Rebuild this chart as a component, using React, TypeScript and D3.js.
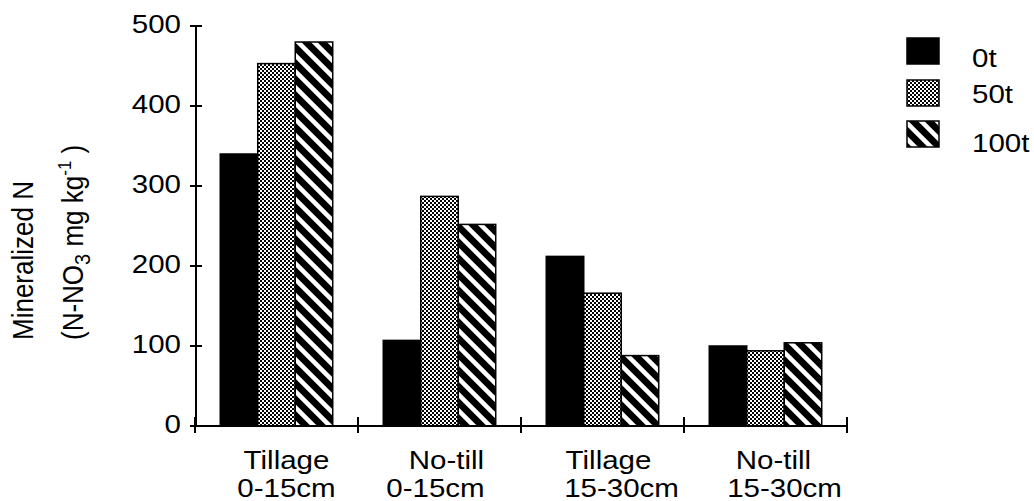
import * as d3 from 'd3';
import React from 'react';

const catLine1 = ['Tillage', 'No-till', 'Tillage', 'No-till'];
const catLine2 = ['0-15cm', '0-15cm', '15-30cm', '15-30cm'];
const seriesNames = ['0t', '50t', '100t'];
const values0t = [340, 107, 212, 100];
const values50t = [453, 287, 166, 94];
const values100t = [480, 252, 88, 104];
const yTicks = [0, 100, 200, 300, 400, 500];

const seriesValues = [values0t, values50t, values100t];
const fills = ['#000', 'url(#checker)', 'url(#hatch)'];
const font = '"Liberation Sans", Arial, sans-serif';
const stretch = 1.18;

// text drawn a little wider than the font, like the original scan
const Wide = ({ x, y, anchor = 'start', size = 25, children }: any) => (
    <g transform={`translate(${x},${y}) scale(${stretch},1)`}>
        <text textAnchor={anchor} fontSize={size} fontFamily={font} fill="#000">{children}</text>
    </g>
);

const App = () => {
    const width = 1034;
    const height = 501;

    const x = d3.scaleBand<number>()
        .domain(catLine1.map((_, i) => i))
        .range([195, 847])
        .padding(0);

    const bw = x.bandwidth();
    const x1 = d3.scaleBand<string>()
        .domain(seriesNames)
        .range([bw * 0.155, bw * 0.845]);

    const y = d3.scaleLinear().domain([0, 500]).range([426, 26]);

    // labels in the original are not quite centred on their groups
    const shift1 = [10, 7, 6, 8];
    const shift2 = [10, -4, 19, 19];

    const legendY = [38, 80, 121];
    const legendText = [67, 103, 152];

    return (
        <svg width={width} height={height} style={{ position: 'absolute', left: 0, top: 0, background: '#fff' }}>
            <defs>
                <pattern id="checker" patternUnits="userSpaceOnUse" width={4} height={4}>
                    <rect width={4} height={4} fill="#fff" />
                    <rect width={2} height={2} fill="#000" />
                    <rect x={2} y={2} width={2} height={2} fill="#000" />
                </pattern>
                <pattern id="hatch" patternUnits="userSpaceOnUse" width={16} height={16}>
                    <rect width={16} height={16} fill="#000" />
                    <path d="M0,0 L16,16 M-8,8 L8,24 M8,-8 L24,8" stroke="#fff" strokeWidth={4.5} />
                </pattern>
            </defs>

            {/* bars */}
            {seriesValues.map((vals, s) => vals.map((v, i) => (
                <rect key={`${s}-${i}`}
                    x={(x(i) as number) + (x1(seriesNames[s]) as number)}
                    y={y(v)}
                    width={x1.bandwidth()}
                    height={y(0) - y(v)}
                    fill={fills[s]}
                    stroke="#000"
                    strokeWidth={1.5} />
            )))}

            {/* y axis */}
            <line x1={196} x2={196} y1={y(500)} y2={y(0)} stroke="#000" strokeWidth={2} />
            {yTicks.map(t => (
                <g key={t}>
                    <line x1={190} x2={202} y1={y(t)} y2={y(t)} stroke="#000" strokeWidth={2} />
                    <Wide x={181} y={y(t) + 7} anchor="end">{t}</Wide>
                </g>
            ))}

            {/* x axis */}
            <line x1={195} x2={847} y1={y(0)} y2={y(0)} stroke="#000" strokeWidth={2} />
            {[...catLine1.map((_, i) => x(i) as number), 847].map((tx, i) => (
                <line key={i} x1={tx} x2={tx} y1={417} y2={433} stroke="#000" strokeWidth={2} />
            ))}
            {catLine1.map((c, i) => (
                <g key={i}>
                    <Wide x={(x(i) as number) + bw / 2 + shift1[i]} y={469} anchor="middle">{c}</Wide>
                    <Wide x={(x(i) as number) + bw / 2 + shift2[i]} y={497} anchor="middle">{catLine2[i]}</Wide>
                </g>
            ))}

            {/* y axis title */}
            <g transform="translate(33,340) scale(1.1,1) rotate(-90)">
                <text fontSize={26} fontFamily={font} fill="#000">Mineralized N</text>
            </g>
            <g transform="translate(83,340) scale(1.1,1) rotate(-90)">
                <text fontSize={26} fontFamily={font} fill="#000">
                    (N-NO<tspan fontSize={20} dy={6}>3</tspan>
                    <tspan dy={-6}> mg kg</tspan>
                    <tspan fontSize={17} dy={-11}>-1</tspan>
                    <tspan dy={11}> )</tspan>
                </text>
            </g>

            {/* legend */}
            {seriesNames.map((name, s) => (
                <g key={name}>
                    <rect x={907} y={legendY[s]} width={32} height={26} fill={fills[s]} stroke="#000" strokeWidth={1.5} />
                    <Wide x={972} y={legendText[s]}>{name}</Wide>
                </g>
            ))}
        </svg>
    );
};

export default App;
